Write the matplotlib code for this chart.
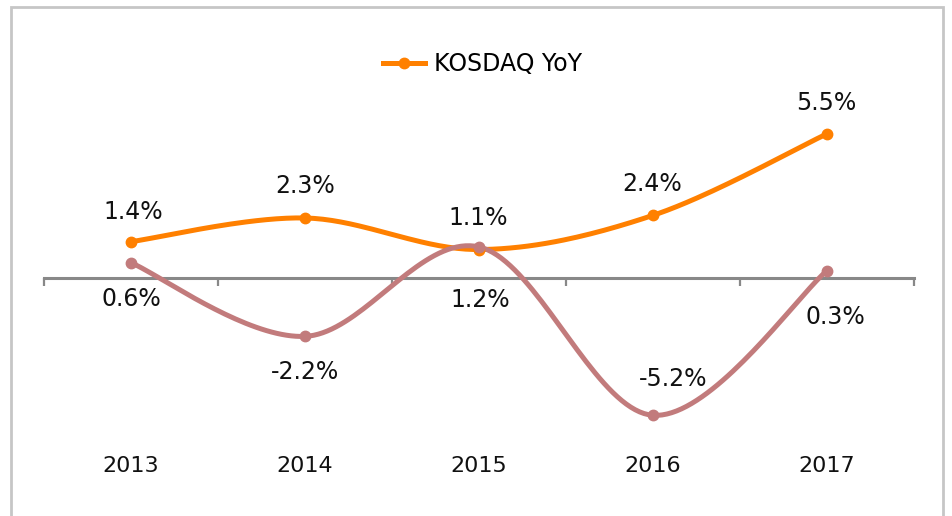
"""
KOSDAQ YoY: dos series con líneas suavizadas y etiquetas de datos.
"""

import numpy as np
import matplotlib.pyplot as plt
import matplotlib.patches as mpatches
from matplotlib.transforms import blended_transform_factory

anios = ["2013", "2014", "2015", "2016", "2017"]
kosdaq_yoy = [1.4, 2.3, 1.1, 2.4, 5.5]
serie_2 = [0.6, -2.2, 1.2, -5.2, 0.3]

# desplazamiento de las etiquetas en píxeles (dx, dy)
offs_kosdaq = [(2, 30), (0, 32), (-1, 32), (-1, 31), (-1, 31)]
offs_serie_2 = [(0, -36), (0, -36), (1, -53), (20, 36), (8, -46)]

naranja = "#FF8000"
rosa = "#C27B7C"
gris_eje = "#888888"


def suavizar(y, n=40):
    """
    Curva Catmull-Rom (tipo Excel) que pasa por todos los puntos.
    """
    y = np.asarray(y, dtype=float)
    x = np.arange(len(y), dtype=float)
    p = np.column_stack([x, y])
    p = np.vstack([p[0], p, p[-1]])
    t = np.linspace(0, 1, n)[:, None]
    partes = []
    for i in range(1, len(p) - 2):
        p0, p1, p2, p3 = p[i - 1], p[i], p[i + 1], p[i + 2]
        c1 = p1 + (p2 - p0) / 6
        c2 = p2 - (p3 - p1) / 6
        b = ((1 - t) ** 3 * p1 + 3 * (1 - t) ** 2 * t * c1
             + 3 * (1 - t) * t ** 2 * c2 + t ** 3 * p2)
        partes.append(b)
    curva = np.vstack(partes)
    return curva[:, 0], curva[:, 1]


fig = plt.figure(figsize=(9.53, 5.16), dpi=100)
ax = fig.add_axes([0.0462, 0.1289, 0.9129, 0.6628])

xs = np.arange(len(anios))

for valores, color, offs in [(kosdaq_yoy, naranja, offs_kosdaq),
                             (serie_2, rosa, offs_serie_2)]:
    cx, cy = suavizar(valores)
    ax.plot(cx, cy, color=color, lw=3.6, solid_capstyle="round", zorder=3)
    ax.plot(xs, valores, "o", color=color, ms=7.5, zorder=4)
    for i, v in enumerate(valores):
        ax.annotate(f"{v:.1f}%", (xs[i], v), xytext=offs[i],
                    textcoords="offset pixels", ha="center", va="center",
                    fontsize=17, color="#111111")

ax.set_xlim(-0.5, len(anios) - 0.5)
ax.set_ylim(-6.5, 6.5)

for s in ["top", "right", "left"]:
    ax.spines[s].set_visible(False)
ax.spines["bottom"].set_position(("data", 0))
ax.spines["bottom"].set_color(gris_eje)
ax.spines["bottom"].set_linewidth(2.2)
ax.spines["bottom"].set_zorder(2)

ax.set_yticks([])
ax.set_xticks(np.arange(len(anios) + 1) - 0.5)
ax.set_xticklabels([])
ax.tick_params(axis="x", direction="out", length=6, width=1.6, color=gris_eje)

trans = blended_transform_factory(ax.transData, fig.transFigure)
for i, a in enumerate(anios):
    ax.text(xs[i], 1 - 466 / 516, a, transform=trans, ha="center",
            va="center", fontsize=16, color="#111111")

linea = plt.Line2D([], [], color=naranja, lw=3.6, marker="o", ms=7.5)
fig.legend(handles=[linea], labels=["KOSDAQ YoY"], loc="center left",
           bbox_to_anchor=(371 / 953, 1 - 64 / 516), frameon=False,
           fontsize=17, borderpad=0, handlelength=1.8, handletextpad=0.35)

marco = mpatches.Rectangle((11 / 953, -0.1), 932 / 953, 1.1 - 7 / 516,
                           transform=fig.transFigure, fill=False,
                           edgecolor="#c6c6c6", lw=2)
fig.patches.append(marco)

plt.savefig("out.png", dpi=100)
